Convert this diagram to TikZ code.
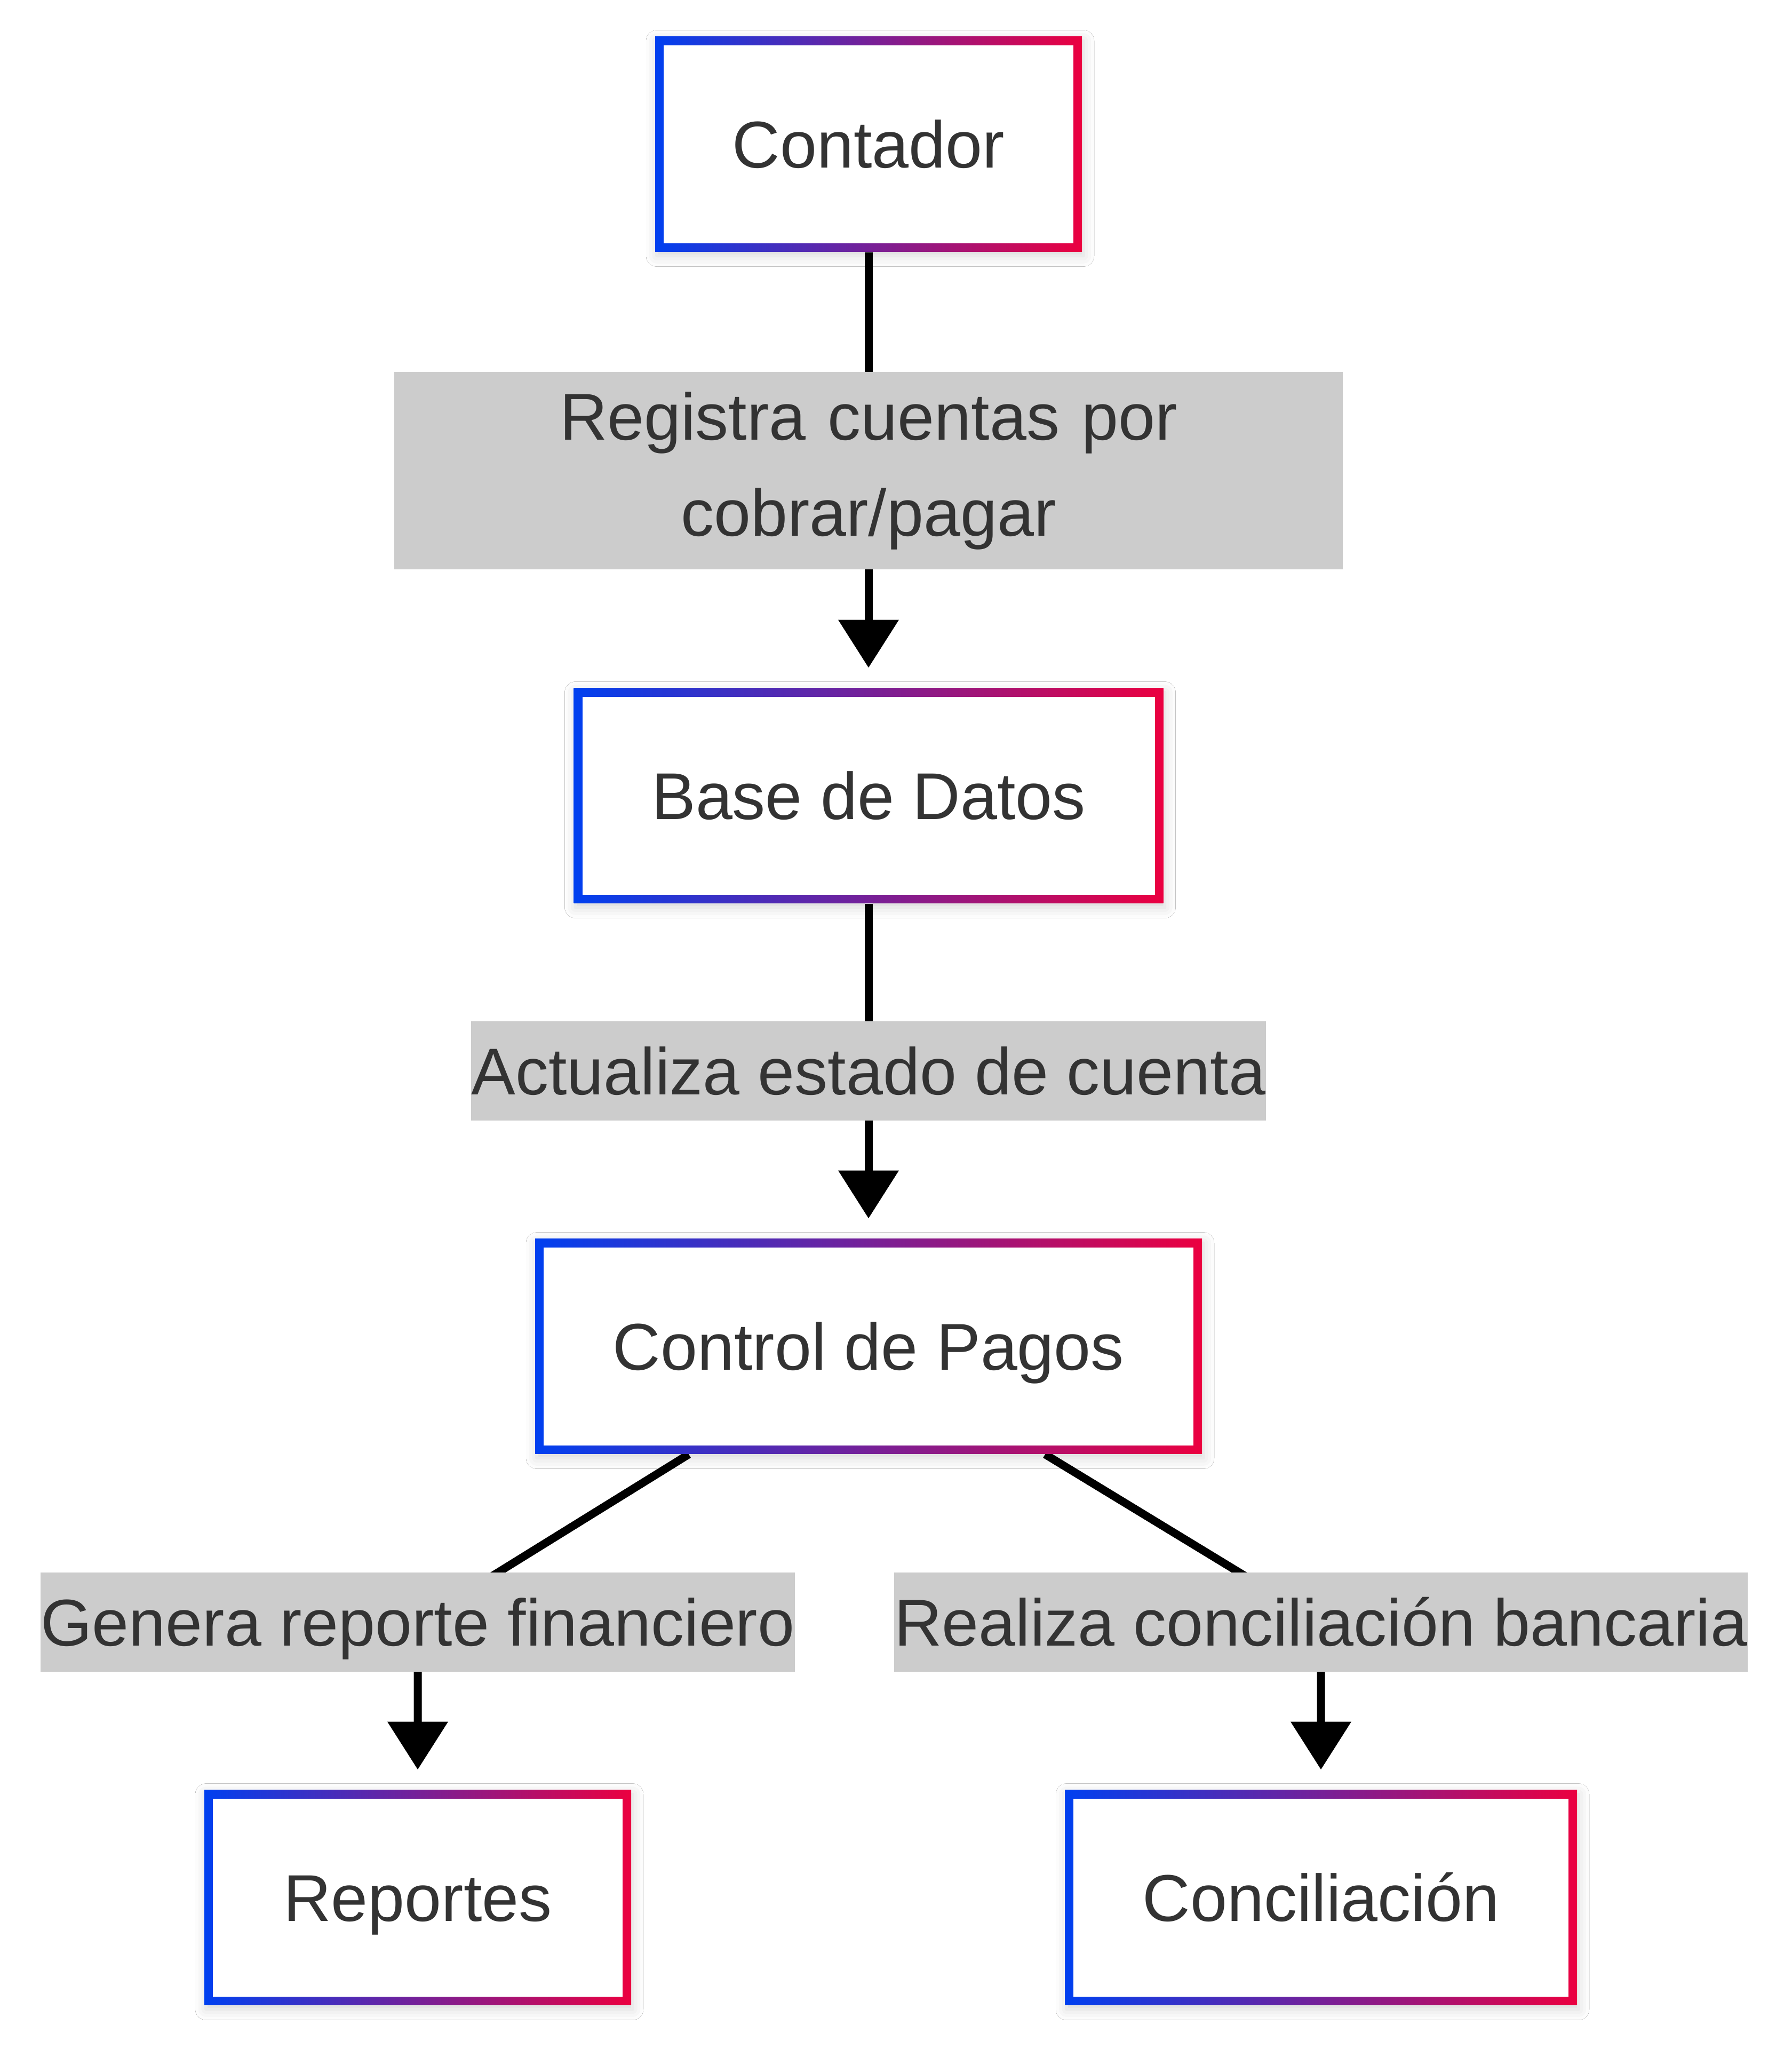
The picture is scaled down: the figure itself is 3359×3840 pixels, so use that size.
\documentclass[tikz,border=0pt]{standalone}
\usepackage{fontspec}
\setmainfont{Liberation Sans}
\usetikzlibrary{arrows.meta, backgrounds, shadows.blur}
\definecolor{gradblue}{HTML}{0040F0}
\definecolor{gradred}{HTML}{EB0040}
\definecolor{textgray}{HTML}{333333}
\definecolor{labelgray}{HTML}{CCCCCC}

\begin{document}
\begin{tikzpicture}[x=0.2pt, y=-0.2pt,
    box/.style={left color=gradblue, right color=gradred, minimum height=80.6pt,
        inner sep=0pt, text=textgray, font=\fontsize{24.8}{36}\selectfont,
        text height=17.8pt, text depth=0pt,
        blur shadow={shadow xshift=0.6pt, shadow yshift=-1.6pt,
            shadow blur radius=4pt, shadow opacity=16},
        path picture={\fill[white]
            ([shift={(3.2pt,3.2pt)}]path picture bounding box.south west) rectangle
            ([shift={(-3.2pt,-3.2pt)}]path picture bounding box.north east);}},
    edgelabel/.style={fill=labelgray, text=textgray, inner xsep=0pt,
        inner ysep=0pt, minimum height=37.2pt,
        font=\fontsize{24.8}{36}\selectfont},
    oneline/.style={edgelabel, text height=17.8pt, text depth=0pt},
    flow/.style={-{Triangle[length=18pt, width=22pt]}, line width=3pt,
        shorten >=7.4pt}]
    \useasboundingbox (0, 0) rectangle (3359, 3840);

    \node[box, minimum width=160pt] (contador) at (1628, 270) {Contador};
    \node[box, minimum width=221pt] (base) at (1628, 1491) {Base de Datos};
    \node[box, minimum width=250pt] (control) at (1628, 2523)
        {Control de Pagos};
    \node[box, minimum width=160pt] (reportes) at (783, 3556) {Reportes};
    \node[box, minimum width=192pt] (conciliacion) at (2476, 3556)
        {Conciliación};

    \node[edgelabel, minimum height=74pt, text width=355.6pt, align=center]
        (registra) at (1628, 882) {Registra cuentas por\\cobrar/pagar};
    \node[oneline] (actualiza) at (1628, 2007) {Actualiza estado de cuenta};
    \node[oneline] (genera) at (783, 3040) {Genera reporte financiero};
    \node[oneline] (realiza) at (2476, 3040) {Realiza conciliación bancaria};

    \begin{scope}[on background layer]
        \fill[white] (0, 0) rectangle (3359, 3840);
        \draw[flow] (contador) -- (base);
        \draw[flow] (base) -- (control);
        \draw[flow] ([xshift=-67.4pt]control.south) -- (genera.center)
            -- (reportes);
        \draw[flow] ([xshift=66.2pt]control.south) -- (realiza.center)
            -- (conciliacion);
    \end{scope}
\end{tikzpicture}
\end{document}
